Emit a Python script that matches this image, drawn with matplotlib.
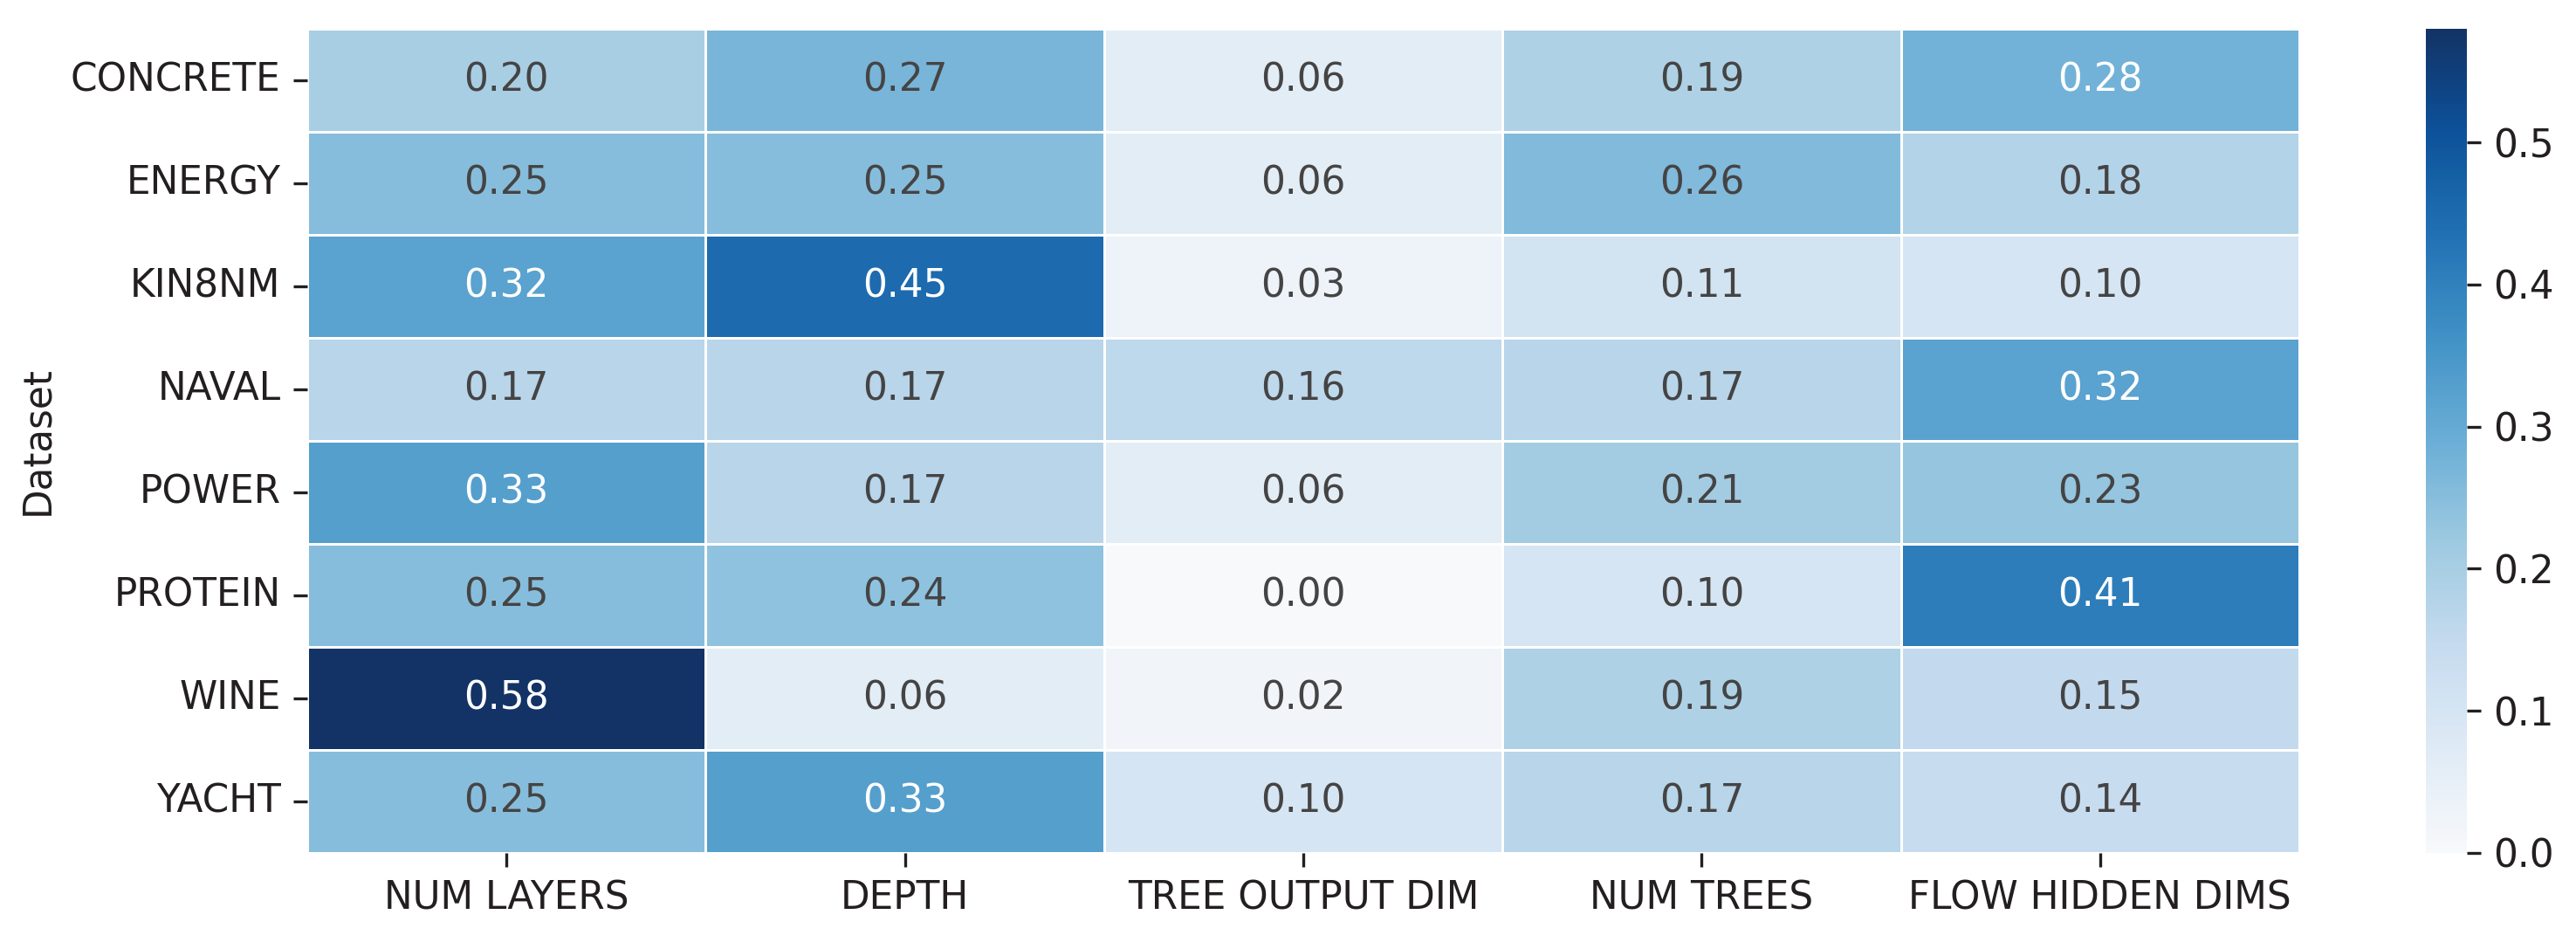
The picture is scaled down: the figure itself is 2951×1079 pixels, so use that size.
import matplotlib
matplotlib.use("Agg")
import matplotlib.pyplot as plt
from matplotlib.colors import ListedColormap, to_rgba
import seaborn as sns
import numpy as np
import pandas as pd

datasets = ["CONCRETE", "ENERGY", "KIN8NM", "NAVAL", "POWER", "PROTEIN", "WINE", "YACHT"]
params = ["NUM LAYERS", "DEPTH", "TREE OUTPUT DIM", "NUM TREES", "FLOW HIDDEN DIMS"]
num_layers = [0.20, 0.25, 0.32, 0.17, 0.33, 0.25, 0.58, 0.25]
depth = [0.27, 0.25, 0.45, 0.17, 0.17, 0.24, 0.06, 0.33]
tree_output_dim = [0.06, 0.06, 0.03, 0.16, 0.06, 0.00, 0.02, 0.10]
num_trees = [0.19, 0.26, 0.11, 0.17, 0.21, 0.10, 0.19, 0.17]
flow_hidden_dims = [0.28, 0.18, 0.10, 0.32, 0.23, 0.41, 0.15, 0.14]

df = pd.DataFrame(
    np.column_stack([num_layers, depth, tree_output_dim, num_trees, flow_hidden_dims]),
    index=datasets, columns=params)

# Blues, with only the extreme ends nudged to the slightly muted tones of the reference
tt = np.linspace(0, 1, 256)
base = plt.get_cmap("Blues")(tt)[:, :3] * 255
src_lo = np.array([8, 48, 107]); src_hi = np.array([247, 251, 255])
dst_lo = np.array([19, 51, 102]); dst_hi = np.array([247, 249, 251])
adj = dst_lo + (base - src_lo) * (dst_hi - dst_lo) / (src_hi - src_lo)
w = (np.abs(2 * tt - 1) ** 3)[:, None]
mix = np.clip((base * (1 - w) + adj * w) / 255, 0, 1)
cmap = ListedColormap(mix)

W, H, DPI = 2951, 1079, 300
fig = plt.figure(figsize=(W / DPI, H / DPI), dpi=DPI)
ax = fig.add_axes([352 / W, 1 - 977 / H, (2634 - 352) / W, (977 - 33) / H])
cax = fig.add_axes([2779 / W, 1 - 977 / H, (2826 - 2779) / W, (977 - 33) / H])

fs = 10.5
txt = "#231f20"
sns.heatmap(df, ax=ax, cbar_ax=cax, cmap=cmap, vmin=0, annot=True, fmt=".2f",
            linewidths=0.6, linecolor="white", annot_kws={"fontsize": fs})

for t in ax.texts:
    r, g, b, _ = to_rgba(t.get_color())
    if r < 0.5:
        t.set_color("#454444")

ax.set_ylabel("Dataset", fontsize=fs, color=txt)
ax.set_xlabel("")
ax.tick_params(axis="both", labelsize=fs, length=3.8, width=0.8, colors=txt)
plt.setp(ax.get_yticklabels(), rotation=0)
plt.setp(ax.get_xticklabels(), rotation=0)
cax.tick_params(labelsize=fs, length=3.8, width=0.8, colors=txt)

fig.savefig("out.png", dpi=DPI)
